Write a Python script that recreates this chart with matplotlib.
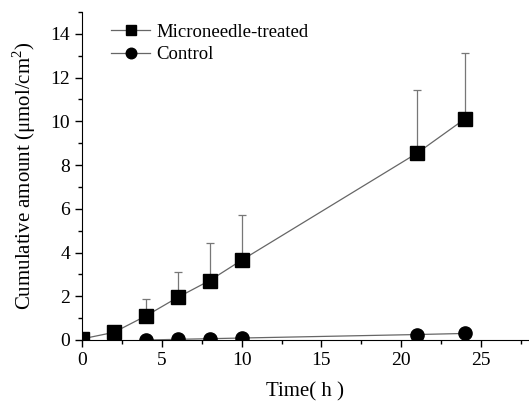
import matplotlib
matplotlib.use("Agg")
import matplotlib.pyplot as plt
from matplotlib.ticker import MultipleLocator

time_mn = [0, 2, 4, 6, 8, 10, 21, 24]
mn_values = [0.05, 0.35, 1.1, 1.95, 2.72, 3.65, 8.55, 10.12]
mn_err = [0.0, 0.3, 0.78, 1.15, 1.72, 2.07, 2.87, 3.0]
time_ctrl = [4, 6, 8, 10, 21, 24]
ctrl_values = [0.0, 0.03, 0.06, 0.09, 0.25, 0.3]

plt.rcParams['font.family'] = ['Liberation Serif', 'DejaVu Serif']
plt.rcParams['mathtext.fontset'] = 'custom'
plt.rcParams['mathtext.rm'] = 'Liberation Serif'
fig = plt.figure(figsize=(5.29, 4.03), dpi=100)
ax = fig.add_axes([82/529, (403-340)/403, (529-82)/529, (340-12)/403])

ax.errorbar(time_mn, mn_values, yerr=[[0]*len(mn_err), mn_err], fmt='none',
            ecolor='#777777', elinewidth=0.9, capsize=3, capthick=0.9, zorder=2)
ax.plot(time_mn, mn_values, color='#666666', lw=0.9, marker='s', ms=9.5,
        mfc='black', mec='black', label='Microneedle-treated', zorder=3, clip_on=True)
ax.plot(time_ctrl, ctrl_values, color='#666666', lw=0.9, marker='o', ms=9.5,
        mfc='black', mec='black', label='Control', zorder=3, clip_on=True)

ax.set_xlim(0, 28)
ax.set_ylim(0, 15)
ax.xaxis.set_major_locator(MultipleLocator(5))
ax.xaxis.set_minor_locator(MultipleLocator(2.5))
ax.yaxis.set_major_locator(MultipleLocator(2))
ax.yaxis.set_minor_locator(MultipleLocator(1))
ax.spines['top'].set_visible(False)
ax.spines['right'].set_visible(False)
ax.tick_params(which='major', direction='out', length=5, width=1, labelsize=14)
ax.tick_params(which='minor', direction='out', length=3, width=1)
ax.set_xlabel('Time( h )', fontsize=15, labelpad=10)
ax.set_ylabel('Cumulative amount (μmol/cm$^{2}$)', fontsize=15, labelpad=9)

ax.legend(loc='upper left', frameon=False, fontsize=13.5, handlelength=2.1,
          handletextpad=0.3, markerscale=0.8,
          borderaxespad=0.0, bbox_to_anchor=(0.048, 0.988), labelspacing=0.3)

fig.savefig('out.png', dpi=100)
